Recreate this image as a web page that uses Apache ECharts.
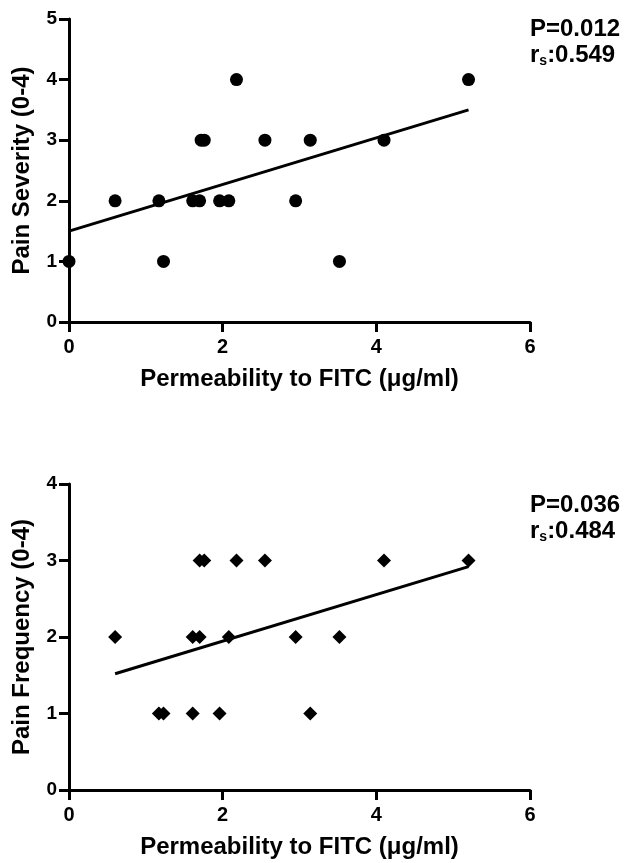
<!doctype html>
<html>
<head>
<meta charset="utf-8">
<style>
  html, body { margin: 0; padding: 0; background: #fff; }
  #main { width: 629px; height: 863px; }
</style>
</head>
<body>
<div id="main"></div>
<script src="https://cdn.jsdelivr.net/npm/echarts@6/dist/echarts.min.js"></script>
<script>
// top panel: pain severity vs permeability
var sevX = [0, 0.6, 1.17, 1.23, 1.61, 1.7, 1.72, 1.76, 1.96, 2.08, 2.18, 2.55, 2.95, 3.14, 3.52, 4.1, 5.2];
var sevY = [1, 2, 2, 1, 2, 2, 3, 3, 2, 2, 4, 3, 2, 3, 1, 3, 4];
var sevFitX = [0, 5.2];
var sevFitY = [1.5, 3.5];

// bottom panel: pain frequency vs permeability
var freqX = [0.6, 1.17, 1.23, 1.61, 1.61, 1.7, 1.7, 1.76, 1.96, 2.08, 2.18, 2.55, 2.95, 3.14, 3.52, 4.1, 5.2];
var freqY = [2, 1, 1, 1, 2, 2, 3, 3, 1, 2, 3, 3, 2, 1, 2, 3, 3];
var freqFitX = [0.6, 5.2];
var freqFitY = [1.52, 2.92];

var xTicks = [0, 2, 4, 6];
var sevStats = ['0.012', '0.549'];
var freqStats = ['0.036', '0.484'];

var FONT = 'Liberation Sans';

function pairs(xs, ys) {
  var out = [];
  for (var i = 0; i < xs.length; i++) out.push([xs[i], ys[i]]);
  return out;
}

function xAxisOpt(idx) {
  return {
    gridIndex: idx, type: 'value', min: xTicks[0], max: xTicks[xTicks.length - 1], interval: 2,
    name: 'Permeability to FITC (\u03bcg/ml)', nameLocation: 'middle', nameGap: 45,
    nameTextStyle: { fontFamily: FONT, fontWeight: 'bold', fontSize: 24, color: '#000' },
    axisLine: { lineStyle: { color: '#000', width: 3 } },
    axisTick: { length: 10, lineStyle: { color: '#000', width: 3 } },
    axisLabel: { fontFamily: FONT, fontWeight: 'bold', fontSize: 20, color: '#000', margin: 15 },
    splitLine: { show: false }
  };
}

function yAxisOpt(idx, max, title) {
  return {
    gridIndex: idx, type: 'value', min: 0, max: max, interval: 1,
    name: title, nameLocation: 'middle', nameGap: 35,
    nameTextStyle: { fontFamily: FONT, fontWeight: 'bold', fontSize: 24, color: '#000' },
    axisLine: { lineStyle: { color: '#000', width: 3 } },
    axisTick: { length: 10, lineStyle: { color: '#000', width: 3 } },
    axisLabel: { fontFamily: FONT, fontWeight: 'bold', fontSize: 19, color: '#000', margin: 12 },
    splitLine: { show: false }
  };
}

function statText(x, y, st) {
  return {
    type: 'text', left: x, top: y,
    style: {
      text: '{a|P=' + st[0] + '}\n{a|r}{s|s}{a|:' + st[1] + '}',
      rich: {
        a: { fontFamily: FONT, fontWeight: 'bold', fontSize: 24, color: '#000', lineHeight: 26 },
        s: { fontFamily: FONT, fontWeight: 'bold', fontSize: 14, color: '#000', lineHeight: 14, verticalAlign: 'bottom' }
      }
    }
  };
}

var chart = echarts.init(document.getElementById('main'));
chart.setOption({
  backgroundColor: '#fff',
  animation: false,
  grid: [
    { left: 69, top: 19, width: 461, height: 303 },
    { left: 69, top: 484, width: 461, height: 306 }
  ],
  xAxis: [xAxisOpt(0), xAxisOpt(1)],
  yAxis: [yAxisOpt(0, 5, 'Pain Severity (0-4)'), yAxisOpt(1, 4, 'Pain Frequency (0-4)')],
  graphic: [statText(530, 17, sevStats), statText(530, 493, freqStats)],
  series: [
    {
      type: 'line', xAxisIndex: 0, yAxisIndex: 0, data: pairs(sevFitX, sevFitY),
      showSymbol: false, lineStyle: { color: '#000', width: 3 }, z: 2
    },
    {
      type: 'scatter', xAxisIndex: 0, yAxisIndex: 0, data: pairs(sevX, sevY),
      symbol: 'circle', symbolSize: 13, itemStyle: { color: '#000', opacity: 1 }, z: 3
    },
    {
      type: 'line', xAxisIndex: 1, yAxisIndex: 1, data: pairs(freqFitX, freqFitY),
      showSymbol: false, lineStyle: { color: '#000', width: 3 }, z: 2
    },
    {
      type: 'scatter', xAxisIndex: 1, yAxisIndex: 1, data: pairs(freqX, freqY),
      symbol: 'diamond', symbolSize: [14, 14], itemStyle: { color: '#000', opacity: 1 }, z: 3
    }
  ]
});
</script>
</body>
</html>
